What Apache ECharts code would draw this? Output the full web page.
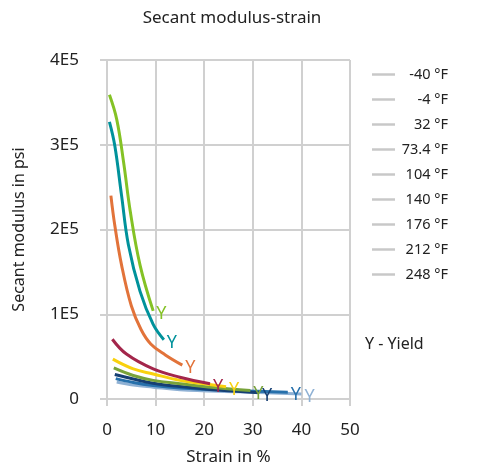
<!DOCTYPE html>
<html>
<head>
<meta charset="utf-8">
<script src="https://cdn.jsdelivr.net/npm/echarts@6/dist/echarts.min.js"></script>
<style>
  html, body { margin: 0; padding: 0; background: #fff; }
  #chart { width: 481px; height: 471px; }
</style>
</head>
<body>
<div id="chart"></div>
<script>
// temperatures (legend)
var temps = ["-40 °F", "-4 °F", "32 °F", "73.4 °F", "104 °F", "140 °F", "176 °F", "212 °F", "248 °F"];
var colors = ["#84c225", "#00929b", "#e2733a", "#a3264b", "#f9d10e", "#78a33a", "#163f73", "#2670ab", "#8fb1d4"];

// strain in %, secant modulus in psi
var strainM40 = [0.5, 2.0, 3.4, 4.8, 6.8, 9.5];
var modM40 = [359000, 330000, 280000, 221000, 158000, 104000];
var strainM4 = [0.5, 1.6, 3.0, 4.4, 6.8, 9.5, 11.7];
var modM4 = [327000, 299000, 240000, 182000, 127000, 88000, 70000];
var strain32 = [0.8, 1.6, 3.0, 5.0, 7.0, 9.0, 12.0, 15.5];
var mod32 = [240000, 205000, 158000, 110000, 82000, 65000, 52000, 40000];
var strain73 = [1.1, 4.0, 9.5, 15.0, 21.2];
var mod73 = [70500, 53000, 35500, 25700, 18000];
var strain104 = [1.2, 5.4, 9.5, 15.0, 20.0, 24.5];
var mod104 = [47000, 35500, 29500, 22000, 18000, 14500];
var strain140 = [1.4, 5.4, 9.5, 15.0, 22.0, 29.5];
var mod140 = [36600, 27700, 22000, 18000, 13500, 10000];
var strain176 = [1.6, 5.4, 9.5, 15.0, 23.0, 31.3];
var mod176 = [29000, 23700, 18700, 14800, 10500, 7500];
var strain212 = [1.8, 5.4, 9.5, 15.0, 26.0, 37.2];
var mod212 = [24000, 19500, 16000, 13000, 10000, 8000];
var strain248 = [2.0, 5.4, 9.5, 15.0, 27.0, 40.0];
var mod248 = [20000, 16500, 14000, 11000, 8500, 6000];

var strains = [strainM40, strainM4, strain32, strain73, strain104, strain140, strain176, strain212, strain248];
var mods = [modM40, modM4, mod32, mod73, mod104, mod140, mod176, mod212, mod248];

var xTicks = [0, 10, 20, 30, 40, 50];
var yTicks = ["0", "1E5", "2E5", "3E5", "4E5"];

var font = "Noto Sans";
var grey = "#d0d0d0";

var chartDom = document.getElementById("chart");
var myChart = echarts.init(chartDom);

var series = temps.map(function (t, i) {
  return {
    name: t,
    type: "line",
    smooth: 0.4,
    symbol: "none",
    lineStyle: { width: 3, color: colors[i] },
    itemStyle: { color: colors[i] },
    data: strains[i].map(function (s, k) { return [s, mods[i][k]]; }),
    endLabel: {
      show: true,
      formatter: "Y",
      color: colors[i],
      fontFamily: font,
      fontSize: 18,
      distance: 3,
      offset: [0, 3]
    },
    z: 10 - i
  };
});

var option = {
  animation: false,
  textStyle: { fontFamily: font },
  title: {
    text: "Secant modulus-strain",
    left: 227,
    textAlign: "center",
    top: 5,
    textStyle: { fontFamily: font, fontSize: 17, fontWeight: "normal", color: "#222" }
  },
  grid: { left: 107, right: 131, top: 60, bottom: 69 },
  legend: {
    orient: "vertical",
    left: 372,
    top: 67,
    padding: 0,
    icon: "rect",
    itemWidth: 23,
    itemHeight: 2.5,
    itemGap: 10,
    itemStyle: { color: "#c8c8c8" },
    formatter: function (name) { return "{t|" + name + "}"; },
    textStyle: {
      fontFamily: font,
      fontSize: 14.5,
      color: "#222",
      rich: { t: { width: 48, align: "right", fontSize: 14.5, lineHeight: 16.5, fontFamily: font, color: "#222" } }
    },
    data: temps
  },
  graphic: [{
    type: "text",
    left: 365,
    top: 336,
    style: { text: "Y - Yield", font: "16px " + font, fill: "#222" }
  }],
  xAxis: {
    type: "value",
    min: xTicks[0],
    max: xTicks[xTicks.length - 1],
    interval: 10,
    name: "Strain in %",
    nameLocation: "middle",
    nameGap: 50,
    nameTextStyle: { fontFamily: font, fontSize: 17, color: "#222" },
    axisLine: { show: true, lineStyle: { color: grey, width: 2 } },
    axisTick: { show: true, length: 7, lineStyle: { color: grey, width: 2 } },
    splitLine: { show: true, lineStyle: { color: grey, width: 2 } },
    axisLabel: { margin: 23, fontFamily: font, fontSize: 17, color: "#222" }
  },
  yAxis: {
    type: "value",
    min: 0,
    max: 400000,
    interval: 100000,
    name: "Secant modulus in psi",
    nameLocation: "middle",
    nameGap: 80,
    nameTextStyle: { fontFamily: font, fontSize: 16, color: "#222" },
    axisLine: { show: true, lineStyle: { color: grey, width: 2 } },
    axisTick: { show: true, length: 7, lineStyle: { color: grey, width: 2 } },
    splitLine: { show: true, lineStyle: { color: grey, width: 2 } },
    axisLabel: {
      margin: 28,
      fontFamily: font,
      fontSize: 17,
      color: "#222",
      formatter: function (v) { return yTicks[Math.round(v / 100000)]; }
    }
  },
  series: series
};

myChart.setOption(option);
</script>
</body>
</html>
